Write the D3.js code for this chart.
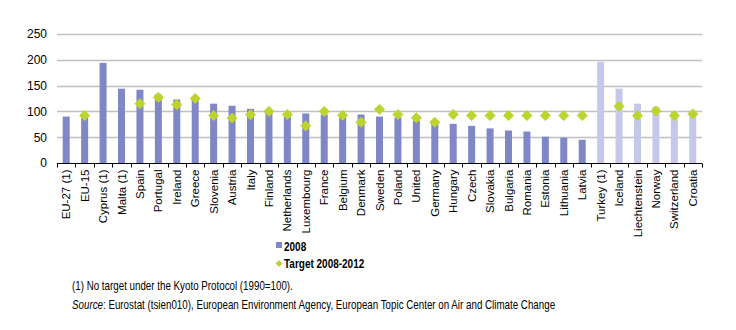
<!DOCTYPE html>
<html>
<head>
<meta charset="utf-8">
<script src="https://cdn.jsdelivr.net/npm/d3@7"></script>
<style>
  body { margin: 0; background: #fff; }
  svg { display: block; font-family: "Liberation Sans", Arial, sans-serif; }
</style>
</head>
<body>
<svg id="svg"></svg>
<script>
// greenhouse gas emissions index (1990=100): 2008 level vs Kyoto target
const countries = [
    "EU-27 (1)", "EU-15", "Cyprus (1)", "Malta (1)", "Spain", "Portugal", "Ireland",
    "Greece", "Slovenia", "Austria", "Italy", "Finland", "Netherlands", "Luxembourg",
    "France", "Belgium", "Denmark", "Sweden", "Poland", "United", "Germany", "Hungary",
    "Czech", "Slovakia", "Bulgaria", "Romania", "Estonia", "Lithuania", "Latvia",
    "Turkey (1)", "Iceland", "Liechtenstein", "Norway", "Switzerland", "Croatia",
];
const values2008 = [
    90, 94, 194, 144, 142, 133, 123, 124, 115, 111, 105, 101, 97, 96,
    94, 93, 94, 90, 88, 82, 79, 76, 72, 67, 63, 61, 51, 49, 45,
    196, 144, 115, 109, 101, 101,
];
// null where there is no target
const target = [
    null, 92, null, null, 115, 127, 113, 125, 92, 87, 93.5, 100, 94, 72,
    100, 92.5, 79, 104, 94, 87.5, 79, 94, 92, 92, 92, 92, 92, 92, 92,
    null, 110, 92, 101, 92, 95,
];
// countries outside the EU get the lighter bar
const nonEU = ["Turkey (1)", "Iceland", "Liechtenstein", "Norway", "Switzerland", "Croatia"];
const yTicks = [0, 50, 100, 150, 200, 250];

const colors = {
    eu: "#7f87c7",
    other: "#c5c8e8",
    target: "#bdd42f",
    grid: "#c0c0c0",
};

const size = { width: 736, height: 330 };
const margin = { left: 57, right: 34, top: 34, bottom: 167 };

const svg = d3.select("#svg").attr("width", size.width).attr("height", size.height);

const x = d3.scaleBand()
    .domain(countries)
    .range([margin.left, size.width - margin.right])
    .paddingInner(0.62)
    .paddingOuter(0.31);

const y = d3.scaleLinear()
    .domain([0, 250])
    .range([size.height - margin.bottom, margin.top]);

// horizontal grid
svg.append("g")
    .selectAll("line")
    .data(yTicks.slice(1))
    .join("line")
    .attr("x1", margin.left)
    .attr("x2", size.width - margin.right)
    .attr("y1", d => Math.round(y(d)) + 0.5)
    .attr("y2", d => Math.round(y(d)) + 0.5)
    .attr("stroke", colors.grid)
    .attr("stroke-width", 1.5);

// y axis labels only, no axis line
const yAxis = svg.append("g")
    .attr("transform", `translate(${margin.left},0)`)
    .call(d3.axisLeft(y).tickValues(yTicks).tickSize(0).tickPadding(10));
yAxis.select(".domain").remove();
yAxis.selectAll("text")
    .attr("font-size", 12)
    .attr("font-family", "Liberation Sans, Arial, sans-serif")
    .attr("fill", "#000");

// bars
svg.append("g")
    .selectAll("rect")
    .data(countries)
    .join("rect")
    .attr("x", d => x(d))
    .attr("width", x.bandwidth())
    .attr("y", (d, i) => y(values2008[i]))
    .attr("height", (d, i) => y(0) - y(values2008[i]))
    .attr("fill", d => nonEU.includes(d) ? colors.other : colors.eu);

// x axis with ticks between categories
const x0 = margin.left;
const plotW = size.width - margin.right - x0;
const xAxisY = Math.round(y(0)) + 0.5;
const xAxis = svg.append("g");
xAxis.append("line")
    .attr("x1", x0).attr("x2", size.width - margin.right)
    .attr("y1", xAxisY).attr("y2", xAxisY)
    .attr("stroke", "#000");
xAxis.selectAll("line.tick")
    .data(d3.range(countries.length + 1))
    .join("line")
    .attr("class", "tick")
    .attr("x1", i => Math.round(x0 + i * plotW / countries.length) + 0.5)
    .attr("x2", i => Math.round(x0 + i * plotW / countries.length) + 0.5)
    .attr("y1", xAxisY).attr("y2", xAxisY + 4)
    .attr("stroke", "#000");

xAxis.selectAll("text")
    .data(countries)
    .join("text")
    .attr("transform", d => `translate(${x(d) + x.bandwidth() / 2 + 4},${xAxisY + 6}) rotate(-90)`)
    .attr("text-anchor", "end")
    .attr("font-size", 11.5)
    .text(d => d);

// target markers (diamonds)
const diamond = d3.symbol().type(d3.symbolSquare).size(52);
svg.append("g")
    .selectAll("path")
    .data(countries.map((c, i) => ({ c, v: target[i] })).filter(d => d.v !== null))
    .join("path")
    .attr("d", diamond)
    .attr("transform", d => `translate(${x(d.c) + x.bandwidth() / 2},${y(d.v)}) rotate(45)`)
    .attr("fill", colors.target)
    .attr("stroke", colors.target)
    .attr("stroke-width", 0.8);

// legend
const legend = svg.append("g").attr("font-size", 12.5).attr("font-weight", "bold");
legend.append("rect")
    .attr("x", 276).attr("y", 242).attr("width", 6).attr("height", 6)
    .attr("fill", colors.eu);
legend.append("path")
    .attr("d", d3.symbol().type(d3.symbolSquare).size(24))
    .attr("transform", "translate(279,263.5) rotate(45)")
    .attr("fill", colors.target);
// condensed labels
const legendText = legend.append("g").attr("transform", "translate(284,0) scale(0.8,1)");
legendText.append("text").attr("y", 251).text("2008");
legendText.append("text").attr("y", 268).text("Target 2008-2012");

// notes, squeezed horizontally
const notes = svg.append("g")
    .attr("font-size", 12)
    .attr("transform", "translate(72,0) scale(0.815,1)");
notes.append("text").attr("y", 290)
    .text("(1) No target under the Kyoto Protocol (1990=100).");
const src = notes.append("text").attr("y", 309);
src.append("tspan").attr("font-style", "italic").text("Source");
src.append("tspan").text(": Eurostat (tsien010), European Environment Agency, European Topic Center on Air and Climate Change");
</script>
</body>
</html>
